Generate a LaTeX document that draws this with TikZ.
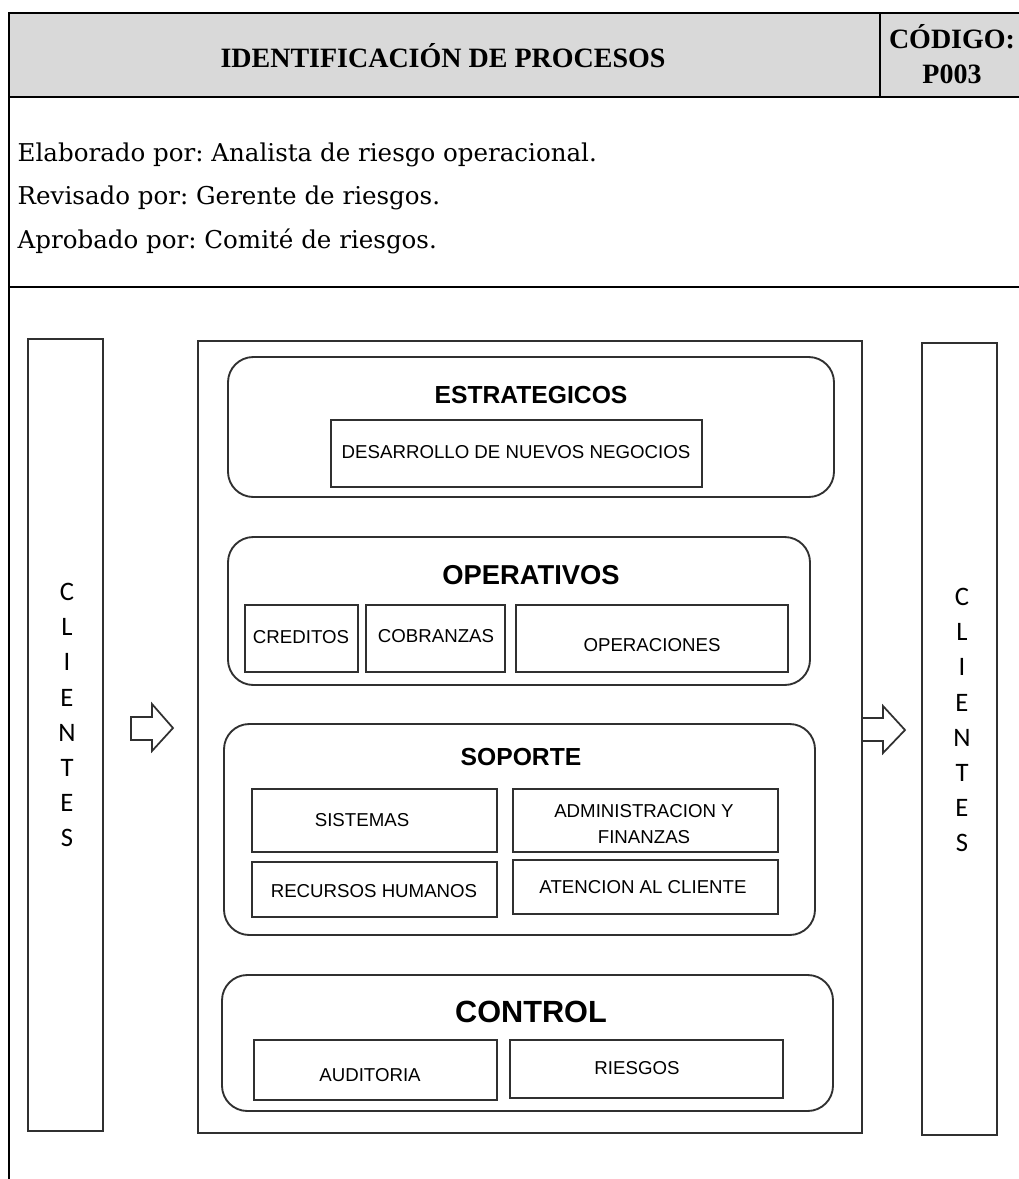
\documentclass[tikz,border=0pt]{standalone}
\usepackage{fontspec}
\setmainfont{Liberation Serif}
\setsansfont{Liberation Sans}
\newfontfamily\clientfont{Carlito}
\newfontfamily\notefont{DejaVu Serif}
\definecolor{headgrey}{HTML}{D9D9D9}
\definecolor{boxline}{HTML}{303030}
\frenchspacing
\begin{document}
\begin{tikzpicture}[x=0.75pt,y=-0.75pt,
  frame/.style={line width=2.2pt,black},
  group/.style={draw=boxline,line width=1.4pt,rounded corners=19pt},
  item/.style={draw=boxline,line width=1.4pt},
  headtext/.style={font=\bfseries\fontsize{21}{23}\selectfont},
  notetext/.style={anchor=west,font=\notefont\fontsize{18.4}{21}\selectfont},
  grouptitle/.style={font=\sffamily\bfseries\fontsize{18.5}{20}\selectfont},
  itemtext/.style={font=\sffamily\fontsize{14}{19}\selectfont,align=center},
  clienttext/.style={font=\clientfont\fontsize{20}{26.3}\selectfont,align=center},
  blockarrow/.style={draw=boxline,line width=1.3pt,fill=white}]
\useasboundingbox (0,0) rectangle (1019,1179);
\fill[white] (0,0) rectangle (1019,1179);

% header band
\fill[headgrey] (9,13) rectangle (1019,97);
\draw[frame] (1019,13) -- (9,13) -- (9,1179);
\draw[frame] (9,97) -- (1019,97);
\draw[frame] (880,13) -- (880,97);
\draw[frame] (9,287) -- (1019,287);

\node[headtext] (title) at (443,56) {IDENTIFICACIÓN DE PROCESOS};
\node[headtext] (codlabel) at (952,37) {CÓDIGO:};
\node[headtext] (codvalue) at (952,74) {P003};

% authorship lines
\node[notetext] (elab) at (13,155) {Elaborado por: Analista de riesgo operacional.};
\node[notetext] (revi) at (13,198) {Revisado por: Gerente de riesgos.};
\node[notetext] (apro) at (13,241) {Aprobado por: Comité de riesgos.};

% client columns
\draw[item] (28,339) rectangle (103,1131);
\node[clienttext] (clin) at (67,715) {C\\L\\I\\E\\N\\T\\E\\S};
\draw[item] (922,343) rectangle (997,1135);
\node[clienttext] (clout) at (962,720) {C\\L\\I\\E\\N\\T\\E\\S};

% input and output arrows
\draw[blockarrow] (131,717) -- (152,717) -- (152,704) -- (173,728) -- (152,751) -- (152,740) -- (131,740) -- cycle;
\draw[blockarrow] (862,718) -- (883,718) -- (883,706) -- (905,730) -- (883,753) -- (883,741) -- (862,741) -- cycle;

% process map frame
\draw[item] (198,341) rectangle (862,1133);

% strategic processes
\draw[group] (228,357) rectangle (834,497);
\node[grouptitle] (estr) at (531,395) {ESTRATEGICOS};
\draw[item] (331,420) rectangle (702,487);
\node[itemtext] (desa) at (516,452) {DESARROLLO DE NUEVOS NEGOCIOS};

% operational processes
\draw[group] (228,537) rectangle (810,685);
\node[grouptitle,font=\sffamily\bfseries\fontsize{20.5}{22}\selectfont] (oper) at (531,575) {OPERATIVOS};
\draw[item] (245,605) rectangle (358,672);
\node[itemtext] (cred) at (301,637) {CREDITOS};
\draw[item] (366,605) rectangle (505,672);
\node[itemtext] (cobr) at (436,636) {COBRANZAS};
\draw[item] (516,605) rectangle (788,672);
\node[itemtext] (opes) at (652,645) {OPERACIONES};

% support processes
\draw[group] (224,724) rectangle (815,935);
\node[grouptitle,font=\sffamily\bfseries\fontsize{18.5}{20}\selectfont] (sopo) at (521,757) {SOPORTE};
\draw[item] (252,789) rectangle (497,852);
\node[itemtext] (sist) at (362,820) {SISTEMAS};
\draw[item] (513,789) rectangle (778,852);
\node[itemtext] (admi) at (644,824) {ADMINISTRACION Y\\FINANZAS};
\draw[item] (252,862) rectangle (497,917);
\node[itemtext] (recu) at (374,891) {RECURSOS HUMANOS};
\draw[item] (513,860) rectangle (778,914);
\node[itemtext] (aten) at (643,887) {ATENCION AL CLIENTE};

% control processes
\draw[group] (222,975) rectangle (833,1111);
\node[grouptitle,font=\sffamily\bfseries\fontsize{23}{25}\selectfont] (cont) at (531,1012) {CONTROL};
\draw[item] (254,1040) rectangle (497,1100);
\node[itemtext] (audi) at (370,1075) {AUDITORIA};
\draw[item] (510,1040) rectangle (783,1098);
\node[itemtext] (ries) at (637,1068) {RIESGOS};
\end{tikzpicture}
\end{document}
